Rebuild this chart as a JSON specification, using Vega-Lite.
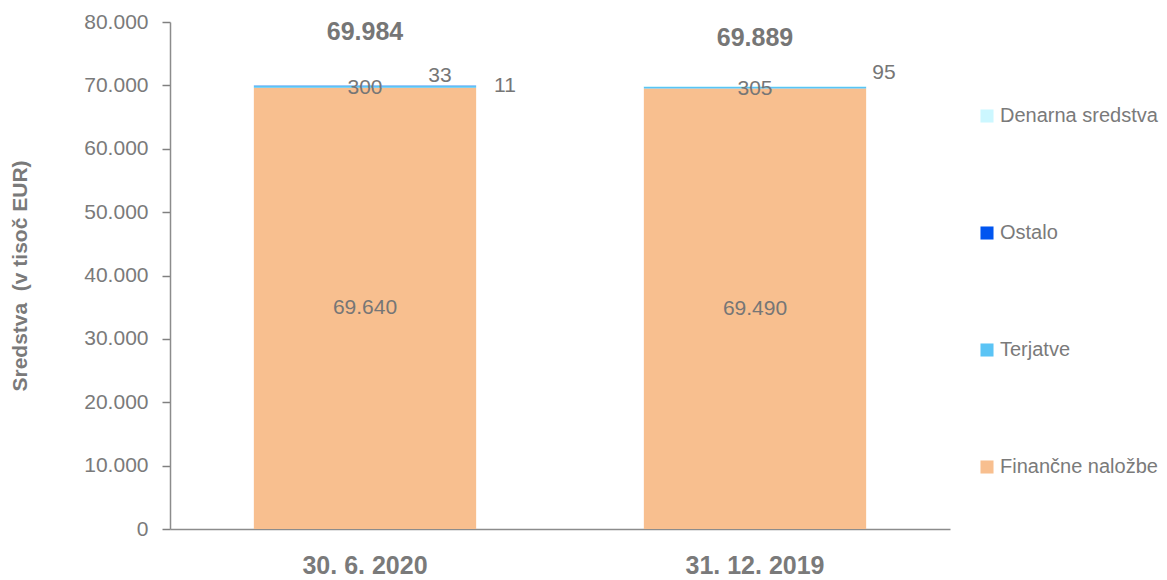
{
  "$schema": "https://vega.github.io/schema/vega-lite/v6.json",
  "width": 780,
  "height": 507,
  "autosize": "none",
  "padding": {"left": 170, "top": 22, "right": 217, "bottom": 51},
  "config": {
    "view": {"stroke": null},
    "font": "Liberation Sans",
    "locale": {"number": {"decimal": ",", "thousands": ".", "grouping": [3], "currency": ["", " €"]}}
  },
  "resolve": {"axis": {"y": "independent"}},
  "datasets": {
    "assets": [
      {"date": "30. 6. 2020", "series": "Finančne naložbe", "idx": 1, "value": 69640},
      {"date": "30. 6. 2020", "series": "Terjatve", "idx": 2, "value": 300},
      {"date": "30. 6. 2020", "series": "Ostalo", "idx": 3, "value": 33},
      {"date": "30. 6. 2020", "series": "Denarna sredstva", "idx": 4, "value": 11},
      {"date": "31. 12. 2019", "series": "Finančne naložbe", "idx": 1, "value": 69490},
      {"date": "31. 12. 2019", "series": "Terjatve", "idx": 2, "value": 305},
      {"date": "31. 12. 2019", "series": "Ostalo", "idx": 3, "value": 0},
      {"date": "31. 12. 2019", "series": "Denarna sredstva", "idx": 4, "value": 95}
    ],
    "totals": [
      {"date": "30. 6. 2020", "total": 69984},
      {"date": "31. 12. 2019", "total": 69889}
    ]
  },
  "encoding": {
    "x": {
      "field": "date", "type": "nominal", "sort": null,
      "scale": {"paddingInner": 0.43, "paddingOuter": 0.215},
      "axis": {"title": null, "labelAngle": 0, "labelFontSize": 25, "labelFontWeight": "bold", "labelColor": "#7a7a7a", "ticks": false, "domainColor": "#8c8c8c", "domainWidth": 1.5, "labelPadding": 24}
    }
  },
  "layer": [
    {
      "data": {"name": "assets"},
      "mark": {"type": "bar"},
      "encoding": {
        "y": {
          "field": "value", "type": "quantitative", "stack": "zero",
          "scale": {"domain": [0, 80000], "nice": false},
          "axis": {"values": [0, 10000, 20000, 30000, 40000, 50000, 60000, 70000, 80000], "format": ",d", "grid": false, "labelFontSize": 21, "labelColor": "#7a7a7a", "title": "Sredstva\u00a0 (v tisoč EUR)", "titleFontSize": 21, "titleFontWeight": "bold", "titleColor": "#7a7a7a", "titlePadding": 53, "ticks": true, "tickSize": 8, "tickWidth": 1.5, "tickColor": "#808080", "domainColor": "#8c8c8c", "domainWidth": 1.5, "labelPadding": 14}
        },
        "color": {
          "field": "series", "type": "nominal",
          "scale": {"domain": ["Denarna sredstva", "Ostalo", "Terjatve", "Finančne naložbe"], "range": ["#CCF7FF", "#0055F0", "#5BC4F5", "#F8BF8F"]},
          "legend": {"orient": "none", "legendX": 807, "legendY": 84, "title": null, "labelFontSize": 20, "labelColor": "#7a7a7a", "symbolType": "square", "symbolSize": 170, "symbolStrokeWidth": 0, "rowPadding": 97, "labelOffset": 3}
        },
        "order": {"field": "idx", "type": "quantitative"}
      }
    },
    {
      "data": {"name": "assets"},
      "transform": [
        {"stack": "value", "groupby": ["date"], "sort": [{"field": "idx", "order": "ascending"}], "as": ["y0", "y1"]}
      ],
      "layer": [
        {
          "transform": [{"filter": "datum.series == 'Finančne naložbe'"}],
          "mark": {"type": "text", "fontSize": 21, "color": "#767676", "dy": 220},
          "encoding": {"y": {"field": "y1", "type": "quantitative", "axis": null}, "text": {"field": "value", "type": "quantitative", "format": ",d"}}
        },
        {
          "transform": [{"filter": "datum.series == 'Terjatve'"}],
          "mark": {"type": "text", "fontSize": 21, "color": "#767676", "dy": 2},
          "encoding": {"y": {"field": "y1", "type": "quantitative", "axis": null}, "text": {"field": "value", "type": "quantitative", "format": ",d"}}
        },
        {
          "transform": [{"filter": "datum.series == 'Ostalo' && datum.value > 0"}],
          "mark": {"type": "text", "fontSize": 21, "color": "#767676", "dx": 75, "dy": -10},
          "encoding": {"y": {"field": "y1", "type": "quantitative", "axis": null}, "text": {"field": "value", "type": "quantitative", "format": ",d"}}
        },
        {
          "transform": [{"filter": "datum.series == 'Denarna sredstva' && datum.date == '30. 6. 2020'"}],
          "mark": {"type": "text", "fontSize": 21, "color": "#767676", "dx": 140, "dy": 1},
          "encoding": {"y": {"field": "y1", "type": "quantitative", "axis": null}, "text": {"field": "value", "type": "quantitative", "format": ",d"}}
        },
        {
          "transform": [{"filter": "datum.series == 'Denarna sredstva' && datum.date == '31. 12. 2019'"}],
          "mark": {"type": "text", "fontSize": 21, "color": "#767676", "dx": 129, "dy": -13},
          "encoding": {"y": {"field": "y1", "type": "quantitative", "axis": null}, "text": {"field": "value", "type": "quantitative", "format": ",d"}}
        }
      ]
    },
    {
      "data": {"name": "totals"},
      "transform": [{"filter": "datum.date == '30. 6. 2020'"}],
      "mark": {"type": "text", "fontSize": 25, "fontWeight": "bold", "color": "#767676", "dy": -53},
      "encoding": {"y": {"field": "total", "type": "quantitative", "axis": null}, "text": {"field": "total", "type": "quantitative", "format": ",d"}}
    },
    {
      "data": {"name": "totals"},
      "transform": [{"filter": "datum.date == '31. 12. 2019'"}],
      "mark": {"type": "text", "fontSize": 25, "fontWeight": "bold", "color": "#767676", "dy": -48},
      "encoding": {"y": {"field": "total", "type": "quantitative", "axis": null}, "text": {"field": "total", "type": "quantitative", "format": ",d"}}
    }
  ]
}
